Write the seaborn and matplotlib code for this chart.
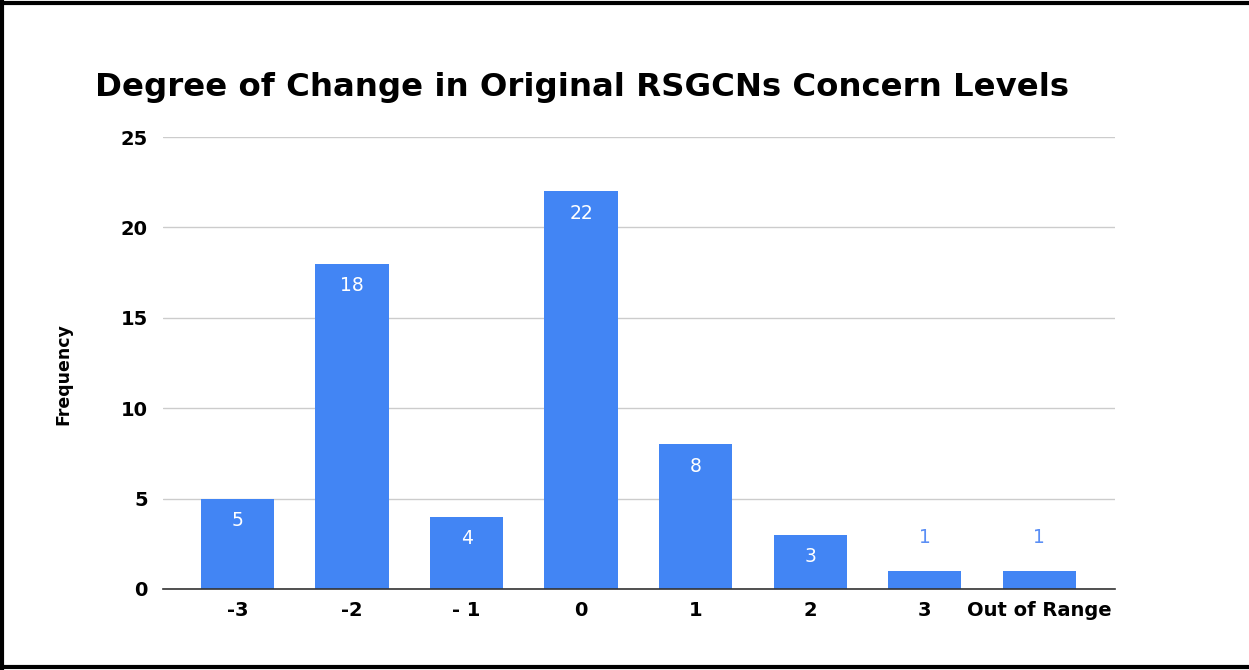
import matplotlib
matplotlib.use("Agg")
import matplotlib.pyplot as plt
import seaborn as sns
import pandas as pd
from matplotlib.lines import Line2D

# chart data
categories = ["-3", "-2", "- 1", "0", "1", "2", "3", "Out of Range"]
frequency = [5, 18, 4, 22, 8, 3, 1, 1]

df = pd.DataFrame({"Change": categories, "Frequency": frequency})

sns.set_style("white")
plt.rcParams["font.family"] = ["DejaVu Sans"]
plt.rcParams["text.color"] = "black"
plt.rcParams["xtick.color"] = "black"
plt.rcParams["ytick.color"] = "black"
plt.rcParams["axes.labelcolor"] = "black"

bar_color = "#4285F4"

fig = plt.figure(figsize=(12.49, 6.70), dpi=100)
ax = fig.add_axes([0.1305, 0.1209, 0.7622, 0.6746])

sns.barplot(data=df, x="Change", y="Frequency", color=bar_color,
            saturation=1, width=0.64, linewidth=0, ax=ax)

ax.set_ylim(0, 25)
ax.set_yticks([0, 5, 10, 15, 20, 25])
ax.set_xlim(-0.65, 7.66)
ax.yaxis.grid(True, color="#cccccc", linewidth=1)
ax.set_axisbelow(True)
for side in ["top", "right", "left"]:
    ax.spines[side].set_visible(False)
ax.spines["bottom"].set_color("#333333")
ax.spines["bottom"].set_linewidth(1.2)
ax.tick_params(axis="both", length=0, labelsize=14)
for lbl in ax.get_xticklabels() + ax.get_yticklabels():
    lbl.set_fontweight("bold")
ax.tick_params(axis="y", pad=11)
ax.tick_params(axis="x", pad=9)
ax.set_xlabel("")
ax.set_ylabel("Frequency", fontsize=12.5, fontweight="bold")
ax.yaxis.set_label_coords(-0.095, 0.475)

# value labels: inside bars in white, above short bars in blue
for i, v in enumerate(frequency):
    if v >= 3:
        ax.annotate(str(v), (i, v), xytext=(0, -16), textcoords="offset points",
                    ha="center", va="center", color="white", fontsize=13.5)
    else:
        ax.annotate(str(v), (i, v), xytext=(0, 24), textcoords="offset points",
                    ha="center", va="center", color="#5b8ff5", fontsize=13.5)

fig.text(95 / 1249, 1 - 96 / 670, "Degree of Change in Original RSGCNs Concern Levels",
         fontsize=23.3, fontweight="bold", ha="left", va="baseline")

# black frame on left, top and bottom
for xs, ys in [([0.002, 0.002], [0, 1]), ([0, 1], [0.996, 0.996]), ([0, 1], [0.004, 0.004])]:
    fig.add_artist(Line2D(xs, ys, color="black", linewidth=3, transform=fig.transFigure))

fig.savefig("out.png", dpi=100)
